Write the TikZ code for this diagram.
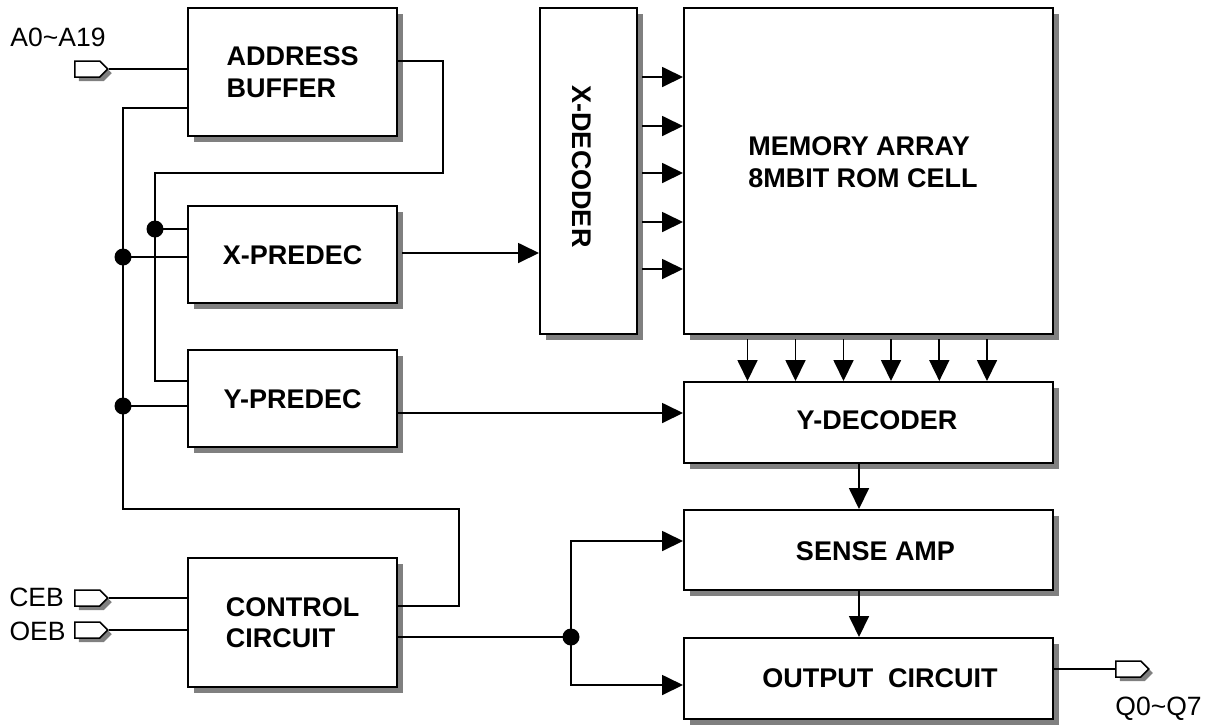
\documentclass[tikz,border=0pt]{standalone}
\usepackage{fontspec}
\setmainfont{Liberation Sans}
\usetikzlibrary{arrows.meta,shadows,shapes.symbols}
\begin{document}
\tikzset{
  box/.style={draw, line width=2.4pt, fill=white, inner sep=0pt, anchor=north west,
    drop shadow={shadow xshift=6pt, shadow yshift=-6pt, fill=black!50, opacity=1},
    font=\bfseries\fontsize{27}{31.5}\selectfont},
  wire/.style={line width=1.8pt},
  arr/.style={wire, -{Triangle[length=21pt,width=20pt]}},
  dot/.style={circle, fill=black, inner sep=0pt, minimum size=17pt},
  pinshape/.style={signal, signal to=east, signal pointer angle=90, draw, line width=1.5pt,
    fill=white, inner sep=0pt, minimum width=33pt, minimum height=16pt, anchor=west,
    drop shadow={shadow xshift=4pt, shadow yshift=-4pt, fill=black!50, opacity=1}},
  lbl/.style={font=\fontsize{26.5}{31}\selectfont, inner sep=0pt},
  btxt/.style={font=\bfseries\fontsize{27}{31.5}\selectfont, inner sep=0pt, align=left},
}
\begin{tikzpicture}[x=1pt,y=-1pt]
\useasboundingbox (0,0) rectangle (1210,724);
% boxes
\node[box, minimum width=209pt, minimum height=128pt, align=left] (ab) at (187,7) {ADDRESS\\BUFFER};
\node[box, minimum width=209pt, minimum height=97pt] (xp) at (187,205) {X-PREDEC};
\node[box, minimum width=209pt, minimum height=97pt] (yp) at (187,349) {Y-PREDEC};
\node[box, minimum width=209pt, minimum height=129pt, align=left] (cc) at (187,557) {CONTROL\\CIRCUIT};
\node[box, minimum width=97pt, minimum height=326pt] (xd) at (539,7) {};
\node[btxt, rotate=-90] (xdt) at (582,166.5) {X-DECODER};
\node[box, minimum width=369pt, minimum height=326pt] (ma) at (683,7) {};
\node[btxt] (mat) at (863,162) {MEMORY ARRAY\\8MBIT ROM CELL};
\node[box, minimum width=369pt, minimum height=81pt] (yd) at (683,381) {};
\node[btxt] (ydt) at (877,420) {Y-DECODER};
\node[box, minimum width=369pt, minimum height=80pt] (sa) at (683,509) {};
\node[btxt] (sat) at (875.5,551) {SENSE AMP};
\node[box, minimum width=369pt, minimum height=81pt] (oc) at (683,637) {};
\node[btxt] (oct) at (880,678.5) {OUTPUT\ \ CIRCUIT};
% pins and labels
\node[pinshape] (pa) at (74,69) {};
\node[pinshape] (pc) at (74,598) {};
\node[pinshape] (po) at (74,630) {};
\node[pinshape] (pq) at (1115,669) {};
\node[lbl] (la) at (58,37.5) {A0\textasciitilde A19};
\node[lbl] (lc) at (36.5,597) {CEB};
\node[lbl] (lo) at (37.5,631) {OEB};
\node[lbl] (lq) at (1158.5,709) {Q0\textasciitilde Q7};
% coordinates
\coordinate (r1) at (443,61);
\coordinate (r2) at (443,173);
\coordinate (r3) at (155,173);
\coordinate (r4) at (155,381);
\coordinate (j3) at (155,229);
\coordinate (l1) at (123,108);
\coordinate (l2) at (123,509);
\coordinate (l3) at (459,509);
\coordinate (l4) at (459,606);
\coordinate (j1) at (123,257);
\coordinate (j2) at (123,406);
\coordinate (y1) at (396,413);
\coordinate (x1) at (402,253);
\coordinate (xo) at (642,0);
\coordinate (mo) at (0,339);
\coordinate (ax) at (859,0);
\coordinate (jc) at (571,637);
\coordinate (s1) at (683,541);
\coordinate (o1) at (683,685);
% wires
\draw[wire] (pa.east) -- (pa.east -| ab.west);
\draw[wire] (pc.east) -- (pc.east -| cc.west);
\draw[wire] (po.east) -- (po.east -| cc.west);
\draw[wire] (pq.west -| oc.east) -- (pq.west);
\draw[wire] (r1 -| ab.east) -- (r1) -- (r2) -- (r3) -- (r4) -- (r4 -| yp.west);
\draw[wire] (j3) -- (j3 -| xp.west);
\draw[wire] (l1 -| ab.west) -- (l1) -- (l2) -- (l3) -- (l4) -- (l4 -| cc.east);
\draw[wire] (j1) -- (j1 -| xp.west);
\draw[wire] (j2) -- (j2 -| yp.west);
\draw[arr] (x1) -- (x1 -| xd.west);
\draw[arr] (y1) -- (y1 -| yd.west);
\foreach \yy in {77,126,173,222,269} {
  \draw[arr] (xo |- 0,\yy) -- (ma.west |- 0,\yy);
}
\foreach \xx in {747.5,795.5,843.5,891,939.3,987} {
  \draw[arr] (mo -| \xx,0) -- (yd.north -| \xx,0);
}
\draw[arr] (ax |- yd.south) -- (ax |- sa.north);
\draw[arr] (ax |- sa.south) -- (ax |- oc.north);
\draw[wire] (jc -| cc.east) -- (jc);
\draw[arr] (jc) |- (s1);
\draw[arr] (jc) |- (o1);
% junction dots
\node[dot] (d1) at (j1) {};
\node[dot] (d2) at (j2) {};
\node[dot] (d3) at (j3) {};
\node[dot] (d4) at (jc) {};
\end{tikzpicture}
\end{document}
